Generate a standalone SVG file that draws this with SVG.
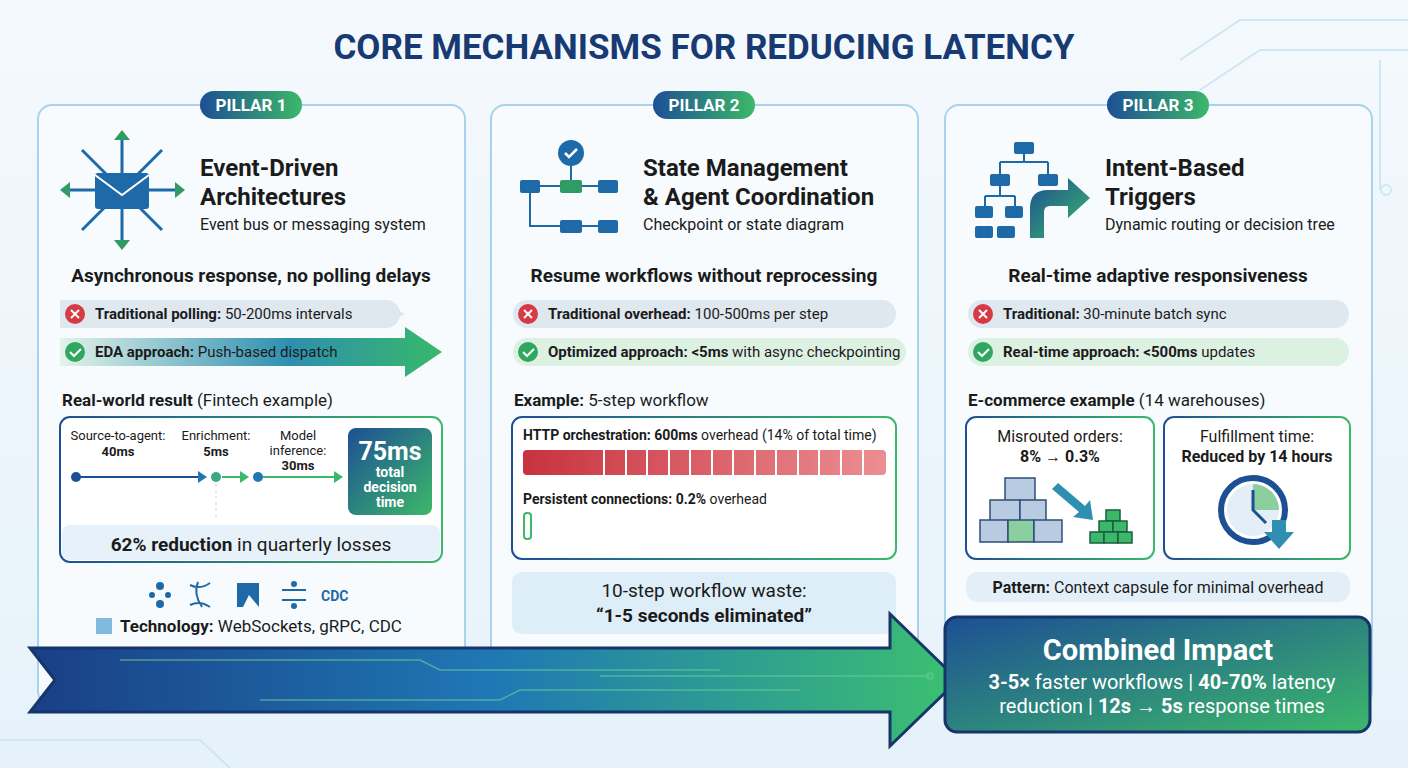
<svg xmlns="http://www.w3.org/2000/svg" width="1408" height="768" viewBox="0 0 1408 768">
<defs>
<linearGradient id="bg" x1="0" y1="0" x2="0" y2="1"><stop offset="0" stop-color="#f4f9fd"/><stop offset="1" stop-color="#e6f2fa"/></linearGradient>
<linearGradient id="bg2" x1="0" y1="0" x2="1" y2="0"><stop offset="0" stop-color="#1d4f94"/><stop offset="1" stop-color="#3cb86a"/></linearGradient>
<linearGradient id="bgv" x1="0" y1="0" x2="1" y2="1"><stop offset="0" stop-color="#1d4f94"/><stop offset="1" stop-color="#3cb86a"/></linearGradient>
<linearGradient id="arr" x1="0" y1="0" x2="1" y2="0"><stop offset="0" stop-color="#1a3f86"/><stop offset="0.5" stop-color="#1f78b4"/><stop offset="1" stop-color="#3cc070"/></linearGradient>
<linearGradient id="grn" x1="0" y1="0" x2="1" y2="0"><stop offset="0" stop-color="#e3f3ea"/><stop offset="0.6" stop-color="#2e8fb0"/><stop offset="1" stop-color="#37b868"/></linearGradient>
<linearGradient id="red" x1="0" y1="0" x2="1" y2="0"><stop offset="0" stop-color="#c8323e"/><stop offset="1" stop-color="#ec8e92"/></linearGradient>
<linearGradient id="brd" x1="0" y1="0" x2="1" y2="0"><stop offset="0" stop-color="#1d4f94"/><stop offset="1" stop-color="#3cb86a"/></linearGradient>
<style>
text{font-family:Roboto,"Liberation Sans",sans-serif;fill:#1b1b1b}
.panel{fill:#f7fbfe;stroke:#a9d3ec;stroke-width:2}
.pill{fill:url(#bg2)}
.pt{font-size:17px;font-weight:700;fill:#fff}
.h1{font-size:24px;font-weight:700}
.sub{font-size:16px}
.h2{font-size:19px;font-weight:700;text-anchor:middle}
.row{font-size:15px}
.b{font-weight:700}
.box{fill:#fff;stroke:url(#brd);stroke-width:2}
.ic{stroke:#1e6aa8;stroke-width:3;fill:none}
.icg{fill:#2f9c66}
.icb{fill:#1e6aa8}
</style>
</defs>
<rect width="1408" height="768" fill="url(#bg)"/>
<g stroke="#cfe6f4" stroke-width="2" fill="none">
<path d="M1180 60 L1240 20 L1408 20"/><path d="M1200 90 L1260 50 L1408 50"/><path d="M1380 60 L1380 190"/><circle cx="1386" cy="190" r="5"/>
<path d="M0 740 L200 740 L230 768"/>
</g>
<text x="704" y="59" text-anchor="middle" font-size="35" font-weight="700" fill="#183a72" style="fill:#183a72">CORE MECHANISMS FOR REDUCING LATENCY</text>

<g id="pillar1">
<rect class="panel" x="38" y="105" width="427" height="600" rx="14"/>
<rect class="pill" x="200" y="91" width="102" height="28" rx="14"/><text class="pt" x="251" y="111" text-anchor="middle">PILLAR 1</text>
<g class="ic"><path d="M122 190 V135 M122 190 V245 M122 190 H65 M122 190 H180 M122 190 L82 150 M122 190 L162 150 M122 190 L82 230 M122 190 L162 230"/></g>
<g fill="#2f9c66"><path d="M122 130 l-8 10 h16z M122 250 l-8 -10 h16z M60 190 l10 -8 v16z M185 190 l-10 -8 v16z"/></g>
<rect x="95" y="173" width="54" height="36" rx="3" fill="#1e6aa8"/><path d="M95 175 L122 195 L149 175" stroke="#fff" stroke-width="2" fill="none"/>
<text class="h1" x="200" y="176">Event-Driven</text><text class="h1" x="200" y="205">Architectures</text>
<text class="sub" x="200" y="230">Event bus or messaging system</text>
<text class="h2" x="251" y="282">Asynchronous response, no polling delays</text>
<path d="M60 300 H380 L405 314 L380 328 H60 Z" fill="#dfe7ef"/>
<rect x="60" y="300" width="340" height="28" rx="14" fill="#dfe7ef"/>
<circle cx="75" cy="314" r="10" fill="#d63a45"/><path d="M71 310 l8 8 M79 310 l-8 8" stroke="#fff" stroke-width="2"/>
<text class="row" x="95" y="319"><tspan class="b">Traditional polling:</tspan> 50-200ms intervals</text>
<path d="M60 338 H405 V327 L442 352 L405 377 V366 H60 Z" fill="url(#grn)"/>
<circle cx="75" cy="352" r="10" fill="#2fa760"/><path d="M70 352 l4 4 l7 -7" stroke="#fff" stroke-width="2" fill="none"/>
<text class="row" x="95" y="357"><tspan class="b">EDA approach:</tspan> Push-based dispatch</text>
<text x="62" y="406" font-size="17"><tspan class="b">Real-world result</tspan> (Fintech example)</text>
<rect class="box" x="60" y="417" width="382" height="145" rx="10"/>
<rect x="62" y="525" width="378" height="35" rx="8" fill="#e6f1f9"/>
<text x="251" y="551" text-anchor="middle" font-size="19"><tspan class="b">62% reduction</tspan> in quarterly losses</text>
<g font-size="13" text-anchor="middle"><text x="118" y="440">Source-to-agent:</text><text x="118" y="456" class="b">40ms</text>
<text x="216" y="440">Enrichment:</text><text x="216" y="456" class="b">5ms</text>
<text x="298" y="440">Model</text><text x="298" y="455">inference:</text><text x="298" y="470" class="b">30ms</text></g>
<line x1="76" y1="477" x2="200" y2="477" stroke="#1d4f94" stroke-width="2"/><path d="M198 471 l9 6 l-9 6z" fill="#1f78b4"/>
<circle cx="76" cy="477" r="5" fill="#1d4f94"/><circle cx="216" cy="477" r="5" fill="#3aa88a"/>
<line x1="222" y1="477" x2="242" y2="477" stroke="#3cb86a" stroke-width="2"/><path d="M240 471 l9 6 l-9 6z" fill="#3cb86a"/>
<circle cx="258" cy="477" r="5" fill="#1f78b4"/><line x1="263" y1="477" x2="336" y2="477" stroke="#3cb86a" stroke-width="2"/><path d="M334 471 l9 6 l-9 6z" fill="#3cb86a"/>
<line x1="216" y1="484" x2="216" y2="518" stroke="#c7d9e6" stroke-dasharray="3 3"/>
<rect x="348" y="428" width="84" height="87" rx="8" fill="url(#bgv)" transform="rotate(0)"/>
<text x="390" y="460" text-anchor="middle" font-size="25" font-weight="700" style="fill:#fff">75ms</text>
<g font-size="14" font-weight="700" text-anchor="middle" style="fill:#fff"><text x="390" y="477" style="fill:#fff">total</text><text x="390" y="492" style="fill:#fff">decision</text><text x="390" y="507" style="fill:#fff">time</text></g>
<g fill="#1e6aa8"><circle cx="160" cy="586" r="4"/><circle cx="160" cy="604" r="4"/><circle cx="152" cy="595" r="3"/><circle cx="168" cy="595" r="3"/>
<path d="M190 585 q10 5 20 -2 M190 605 q10 -5 20 2 M198 582 q-5 12 4 25" stroke="#1e6aa8" stroke-width="2" fill="none"/>
<path d="M237 583 h22 v24 l-10 -12 l-6 12 h-6z"/>
<path d="M282 590 h24 M282 600 h24" stroke="#1e6aa8" stroke-width="2"/><circle cx="294" cy="584" r="3"/><circle cx="294" cy="606" r="3"/></g>
<text x="321" y="601" font-size="14" font-weight="700" style="fill:#1e6aa8">CDC</text>
<rect x="96" y="618" width="16" height="16" fill="#4a9fd0" opacity="0.7"/>
<text x="120" y="632" font-size="17"><tspan class="b">Technology:</tspan> WebSockets, gRPC, CDC</text>
</g>

<g id="pillar2">
<rect class="panel" x="491" y="105" width="427" height="600" rx="14"/>
<rect class="pill" x="653" y="91" width="102" height="28" rx="14"/><text class="pt" x="704" y="111" text-anchor="middle">PILLAR 2</text>
<circle cx="571" cy="153" r="13" fill="#1e6aa8"/><path d="M565 153 l4 4 l8 -8" stroke="#fff" stroke-width="2.5" fill="none"/>
<g fill="#1e6aa8"><rect x="520" y="180" width="20" height="13" rx="2"/><rect x="560" y="180" width="22" height="13" rx="2" fill="#2f9c66"/><rect x="598" y="180" width="20" height="13" rx="2"/><rect x="560" y="220" width="22" height="13" rx="2"/><rect x="598" y="220" width="20" height="13" rx="2"/></g>
<path d="M571 166 v14 M540 186 h20 M582 186 h16 M530 193 v33 h30 M582 226 h16" stroke="#1e6aa8" stroke-width="2" fill="none"/>
<text class="h1" x="643" y="176">State Management</text><text class="h1" x="643" y="205">&amp; Agent Coordination</text>
<text class="sub" x="643" y="230">Checkpoint or state diagram</text>
<text class="h2" x="704" y="282">Resume workflows without reprocessing</text>
<rect x="513" y="300" width="383" height="28" rx="14" fill="#dfe7ef"/>
<circle cx="528" cy="314" r="10" fill="#d63a45"/><path d="M524 310 l8 8 M532 310 l-8 8" stroke="#fff" stroke-width="2"/>
<text class="row" x="548" y="319"><tspan class="b">Traditional overhead:</tspan> 100-500ms per step</text>
<rect x="513" y="338" width="393" height="28" rx="14" fill="#ddf1e3"/>
<circle cx="528" cy="352" r="10" fill="#2fa760"/><path d="M523 352 l4 4 l7 -7" stroke="#fff" stroke-width="2" fill="none"/>
<text class="row" x="548" y="357"><tspan class="b">Optimized approach: &lt;5ms</tspan> with async checkpointing</text>
<text x="514" y="406" font-size="17"><tspan class="b">Example:</tspan> 5-step workflow</text>
<rect class="box" x="512" y="417" width="384" height="142" rx="10"/>
<text x="523" y="440" font-size="14"><tspan class="b">HTTP orchestration: 600ms</tspan> overhead (14% of total time)</text>
<rect x="523" y="450" width="363" height="25" rx="4" fill="url(#red)"/>
<g stroke="#fff" stroke-width="2"><path d="M604 450v25M626 450v25M647 450v25M669 450v25M690 450v25M712 450v25M733 450v25M755 450v25M776 450v25M798 450v25M819 450v25M841 450v25M863 450v25"/></g>
<text x="523" y="504" font-size="14"><tspan class="b">Persistent connections: 0.2%</tspan> overhead</text>
<rect x="524" y="513" width="7" height="26" rx="3" fill="none" stroke="#3cb86a" stroke-width="2"/>
<rect x="512" y="572" width="384" height="62" rx="10" fill="#ddeef9"/>
<text x="704" y="597" text-anchor="middle" font-size="19">10-step workflow waste:</text>
<text x="704" y="622" text-anchor="middle" font-size="19" font-weight="700">“1-5 seconds eliminated”</text>
</g>

<g id="pillar3">
<rect class="panel" x="945" y="105" width="427" height="600" rx="14"/>
<rect class="pill" x="1107" y="91" width="102" height="28" rx="14"/><text class="pt" x="1158" y="111" text-anchor="middle">PILLAR 3</text>
<g fill="none" stroke="#1e6aa8" stroke-width="2"><path d="M1024 152 v10 M1000 162 h48 M1000 162 v14 M1048 162 v14 M1000 184 v12 M985 196 h30 M985 196 v12 M1015 196 v12 M982 216 v0"/></g>
<g fill="#1e6aa8"><rect x="1014" y="142" width="20" height="12" rx="2"/><rect x="990" y="174" width="20" height="12" rx="2"/><rect x="1038" y="174" width="20" height="12" rx="2"/><rect x="975" y="206" width="18" height="12" rx="2"/><rect x="1005" y="206" width="18" height="12" rx="2"/><rect x="975" y="226" width="18" height="12" rx="2"/><rect x="997" y="226" width="18" height="12" rx="2"/></g>
<path d="M1030 238 v-30 q0 -18 18 -18 h20 v-12 l22 20 l-22 20 v-12 h-18 q-6 0 -6 6 v26z" fill="url(#bgv)"/>
<text class="h1" x="1105" y="176">Intent-Based</text><text class="h1" x="1105" y="205">Triggers</text>
<text class="sub" x="1105" y="230">Dynamic routing or decision tree</text>
<text class="h2" x="1158" y="282">Real-time adaptive responsiveness</text>
<rect x="968" y="300" width="381" height="28" rx="14" fill="#dfe7ef"/>
<circle cx="983" cy="314" r="10" fill="#d63a45"/><path d="M979 310 l8 8 M987 310 l-8 8" stroke="#fff" stroke-width="2"/>
<text class="row" x="1003" y="319"><tspan class="b">Traditional:</tspan> 30-minute batch sync</text>
<rect x="968" y="338" width="381" height="28" rx="14" fill="#ddf1e3"/>
<circle cx="983" cy="352" r="10" fill="#2fa760"/><path d="M978 352 l4 4 l7 -7" stroke="#fff" stroke-width="2" fill="none"/>
<text class="row" x="1003" y="357"><tspan class="b">Real-time approach: &lt;500ms</tspan> updates</text>
<text x="968" y="406" font-size="17"><tspan class="b">E-commerce example</tspan> (14 warehouses)</text>
<rect class="box" x="966" y="417" width="188" height="142" rx="10"/>
<rect class="box" x="1164" y="417" width="186" height="142" rx="10"/>
<text x="1060" y="442" text-anchor="middle" font-size="16">Misrouted orders:</text>
<text x="1060" y="462" text-anchor="middle" font-size="16" font-weight="700">8% → 0.3%</text>
<g stroke="#2d4f7a" stroke-width="1.5" fill="#b8cbe0"><rect x="1005" y="478" width="30" height="24"/><rect x="990" y="500" width="30" height="24"/><rect x="1020" y="500" width="26" height="24"/><rect x="980" y="520" width="28" height="22"/><rect x="1008" y="520" width="26" height="22" fill="#8ccf9f"/><rect x="1034" y="520" width="28" height="22"/></g>
<path d="M1058 483 L1085 506 L1090 500 L1093 520 L1073 517 L1079 512 L1052 489z" fill="#2e8fb0"/>
<g stroke="#1d5c3e" stroke-width="1.5" fill="#3cb86a"><rect x="1106" y="510" width="14" height="11"/><rect x="1099" y="521" width="14" height="11"/><rect x="1113" y="521" width="14" height="11"/><rect x="1090" y="532" width="14" height="11"/><rect x="1104" y="532" width="14" height="11"/><rect x="1118" y="532" width="14" height="11"/></g>
<text x="1257" y="442" text-anchor="middle" font-size="16">Fulfillment time:</text>
<text x="1257" y="462" text-anchor="middle" font-size="16" font-weight="700">Reduced by 14 hours</text>
<circle cx="1253" cy="510" r="32" fill="none" stroke="#1d4f94" stroke-width="6"/>
<circle cx="1253" cy="510" r="26" fill="#e3eef7"/>
<path d="M1253 484 A26 26 0 0 1 1279 510 L1253 510z" fill="#8ccf9f"/>
<path d="M1253 490 V510 L1266 523" stroke="#1d4f94" stroke-width="3" fill="none"/>
<path d="M1272 520 h14 v12 h8 l-15 17 l-15 -17 h8z" fill="#2e8fb0"/>
<rect x="966" y="572" width="384" height="30" rx="12" fill="#e3eff8"/>
<text x="1158" y="593" text-anchor="middle" font-size="16"><tspan class="b">Pattern:</tspan> Context capsule for minimal overhead</text>
</g>

<g id="connectors">
<path d="M30 648 H890 V614 L958 680 L890 746 V712 H30 L55 680 Z" fill="url(#arr)" stroke="#16356b" stroke-width="3"/>
<g stroke="#6fd0a0" stroke-width="1.5" fill="none" opacity="0.6"><path d="M120 660 H420 L440 670 H720"/><path d="M260 700 H500 L520 690 H800"/><path d="M600 676 H930"/><circle cx="930" cy="676" r="3"/></g>
</g>

<g id="impact">
<rect x="945" y="617" width="425" height="115" rx="12" fill="url(#bgv)" stroke="#16356b" stroke-width="3"/>
<text x="1158" y="660" text-anchor="middle" font-size="29" font-weight="700" style="fill:#fff">Combined Impact</text>
<text x="1162" y="689" text-anchor="middle" font-size="20" style="fill:#fff"><tspan font-weight="700" style="fill:#fff">3-5×</tspan> faster workflows | <tspan font-weight="700" style="fill:#fff">40-70%</tspan> latency</text>
<text x="1162" y="713" text-anchor="middle" font-size="20" style="fill:#fff">reduction | <tspan font-weight="700" style="fill:#fff">12s → 5s</tspan> response times</text>
</g>
</svg>
